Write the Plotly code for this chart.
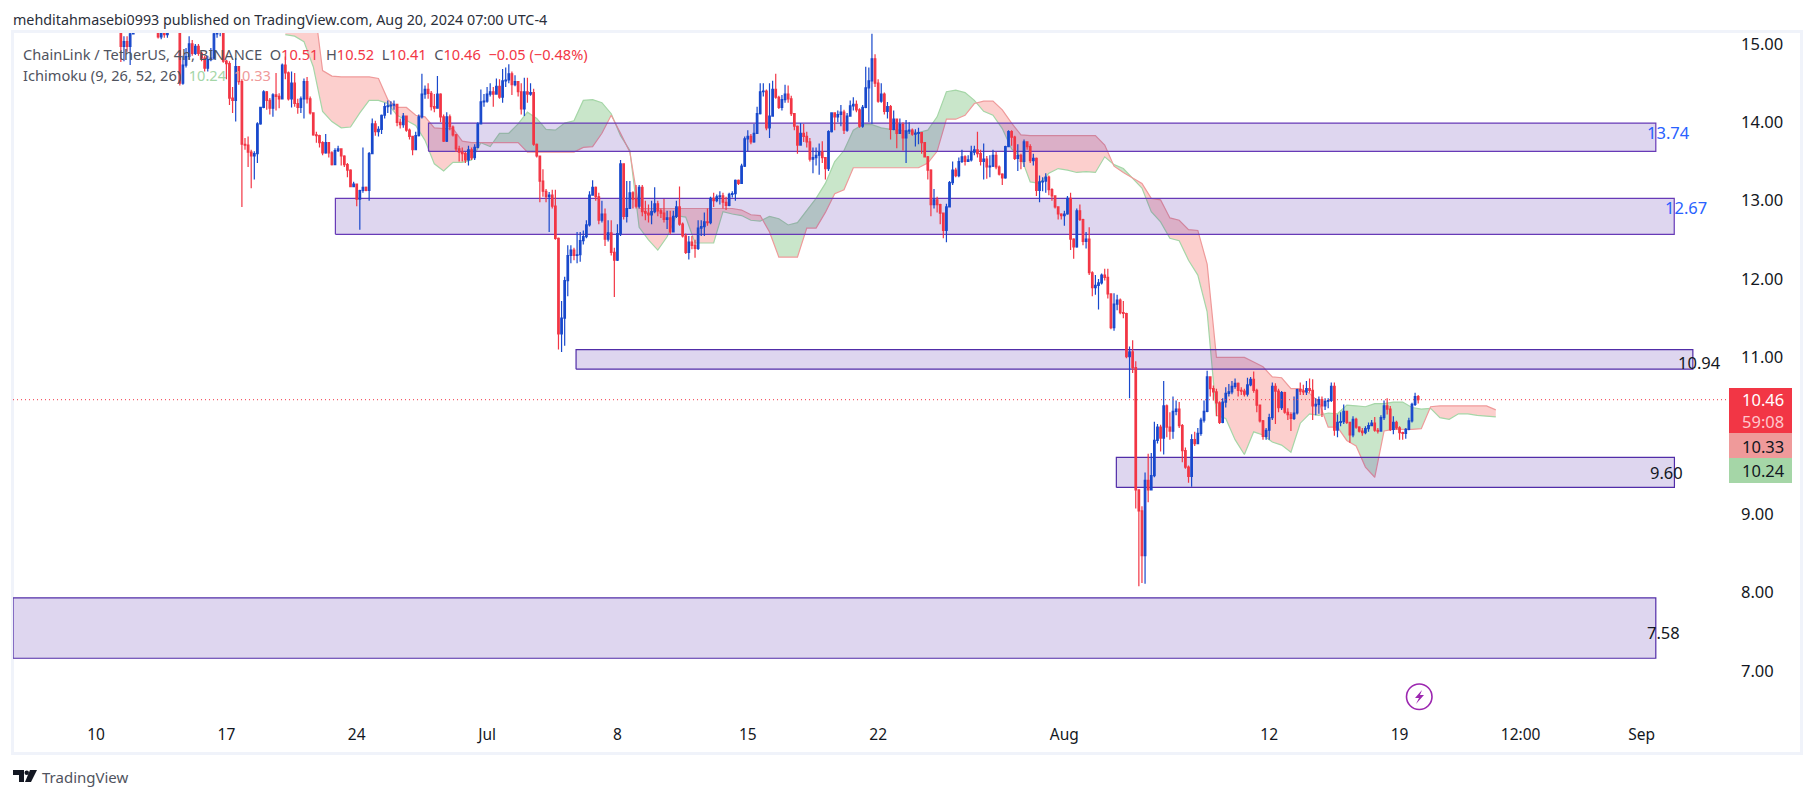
import pandas as pd
import plotly.graph_objects as go

closes = [
 14.97,15.03,14.97,15.13,15.3,15.4,15.5,15.6,15.5,15.45,
 15.35,15.2,15.09,15.14,15.12,15.2,15.3,15.4,15.35,14.5,
 14.73,14.84,15.0,14.88,14.97,14.88,14.82,14.69,14.8,14.82,
 15.13,15.15,15.17,14.78,14.75,14.31,14.28,14.71,14.52,13.72,
 13.71,13.62,13.57,13.6,13.98,14.19,14.39,14.28,14.18,14.35,
 14.33,14.3,14.73,14.63,14.3,14.5,14.24,14.19,14.3,14.52,
 14.3,14.12,13.84,13.83,13.74,13.61,13.74,13.61,13.46,13.64,
 13.66,13.57,13.46,13.39,13.18,13.21,13.02,13.13,13.17,13.13,
 13.6,13.98,13.88,13.91,14.09,14.2,14.21,14.22,14.23,14.0,
 13.97,14.08,13.9,13.82,13.65,13.83,14.07,14.36,14.42,14.37,
 14.2,14.18,14.36,14.07,13.76,14.07,13.94,13.84,13.66,13.62,
 13.6,13.52,13.65,13.55,13.68,13.98,14.26,14.27,14.36,14.39,
 14.36,14.46,14.32,14.53,14.54,14.62,14.48,14.52,14.39,14.17,
 14.39,14.36,14.38,13.72,13.57,13.25,13.12,13.05,13.07,12.93,
 12.52,11.3,11.5,11.98,12.3,12.37,12.3,12.31,12.49,12.54,
 12.69,13.07,13.17,13.05,12.75,12.83,12.51,12.59,12.34,12.24,
 12.58,13.47,12.8,12.9,13.1,13.02,12.93,13.17,12.86,12.84,
 12.82,12.86,12.96,12.87,12.84,12.76,12.78,12.6,12.8,12.92,
 12.7,12.55,12.34,12.47,12.43,12.39,12.65,12.67,12.73,12.72,
 13.03,13.0,13.05,13.06,12.98,12.94,13.08,13.09,13.26,13.22,
 13.44,13.79,13.82,13.75,13.86,14.11,14.39,14.4,13.93,14.08,
 14.42,14.32,14.19,14.29,14.36,14.3,14.11,13.95,13.71,13.86,
 13.82,13.75,13.53,13.55,13.58,13.62,13.55,13.41,13.88,14.12,
 14.07,14.1,14.13,13.9,14.08,14.21,14.23,14.16,13.95,14.19,
 14.44,14.53,14.81,14.5,14.27,14.36,14.14,14.2,13.91,14.04,
 13.86,13.97,13.8,13.89,13.9,13.85,13.86,13.87,13.74,13.56,
 13.39,12.95,13.01,12.95,12.84,12.62,12.92,13.23,13.39,13.32,
 13.5,13.56,13.5,13.52,13.62,13.65,13.6,13.5,13.53,13.43,
 13.44,13.58,13.43,13.34,13.29,13.69,13.88,13.81,13.54,13.58,
 13.5,13.75,13.69,13.51,13.54,13.13,13.24,13.25,13.3,13.14,
 13.06,12.92,12.83,12.81,12.83,13.03,12.51,12.41,12.87,12.76,
 12.48,12.51,12.08,11.89,11.92,11.95,12.05,12.02,11.81,11.38,
 11.68,11.73,11.57,11.56,11.01,11.07,10.87,9.31,9.04,8.47,
 9.43,9.31,9.49,9.94,10.11,9.97,10.38,10.11,10.06,10.31,
 10.34,10.13,9.81,9.6,9.48,9.95,9.9,10.03,10.2,10.31,
 10.75,10.6,10.56,10.42,10.17,10.43,10.54,10.56,10.63,10.67,
 10.58,10.57,10.53,10.65,10.72,10.58,10.39,10.19,9.99,10.07,
 10.23,10.63,10.57,10.36,10.55,10.3,10.27,10.22,10.29,10.59,
 10.57,10.56,10.6,10.58,10.38,10.4,10.46,10.38,10.44,10.45,
 10.63,10.07,10.17,10.18,10.31,10.17,10.01,10.21,10.11,10.06,
 10.04,10.09,10.13,10.16,10.07,10.06,10.23,10.38,10.34,10.08,
 10.17,10.1,10.04,10.03,10.08,10.19,10.4,10.5,10.46]

highs = [
 15.3,15.1,15.1,15.2,15.4,15.5,15.6,15.7,15.65,15.6,
 15.5,15.4,15.25,15.25,15.2,15.3,15.4,15.5,15.5,15.4,
 14.85,14.95,15.1,15.05,15.0,15.0,14.9,14.85,14.85,14.95,
 15.25,15.3,15.3,15.25,14.8,14.78,14.45,14.82,14.72,14.55,
 13.8,13.82,13.65,13.63,14.0,14.2,14.41,14.4,14.31,14.37,
 14.63,14.37,14.75,14.84,14.65,14.65,14.63,14.3,14.33,14.56,
 14.58,14.33,14.13,13.88,13.84,13.76,13.85,13.75,13.63,13.67,
 13.7,13.67,13.58,13.48,13.4,13.24,13.2,13.14,13.68,13.18,
 13.62,14.05,14.02,13.95,14.1,14.25,14.28,14.27,14.28,14.22,
 14.05,14.12,14.06,13.92,13.82,13.88,14.1,14.62,14.47,14.5,
 14.4,14.36,14.59,14.37,14.1,14.13,14.1,13.96,13.85,13.7,
 13.68,13.62,13.7,13.68,13.72,14.0,14.42,14.36,14.45,14.5,
 14.45,14.56,14.55,14.68,14.7,14.74,14.65,14.6,14.52,14.5,
 14.57,14.57,14.5,14.43,13.73,13.57,13.4,13.15,13.11,13.14,
 13.14,12.53,11.72,12.03,12.43,12.43,12.4,12.6,12.6,12.62,
 12.75,13.12,13.26,13.18,13.1,13.0,12.9,12.75,12.75,12.4,
 12.7,13.52,13.47,13.25,13.25,13.12,13.2,13.2,13.2,13.0,
 12.95,13.0,13.17,13.0,12.9,13.02,12.87,12.87,12.87,13.0,
 13.18,12.72,12.58,12.55,12.55,12.5,12.75,12.75,12.85,12.9,
 13.05,13.1,13.08,13.12,13.1,13.05,13.1,13.12,13.27,13.27,
 13.47,13.82,13.9,13.85,13.98,14.2,14.5,14.5,14.42,14.5,
 14.53,14.62,14.34,14.35,14.48,14.47,14.34,14.12,13.96,13.99,
 13.98,13.88,13.8,13.68,13.68,13.73,13.76,13.55,13.9,14.13,
 14.12,14.15,14.22,14.16,14.12,14.28,14.32,14.28,14.18,14.22,
 14.71,14.7,15.13,14.87,14.55,14.5,14.38,14.26,14.22,14.15,
 14.05,14.05,14.0,14.03,14.0,13.92,13.91,13.93,13.87,13.75,
 13.57,13.4,13.15,13.05,12.96,12.84,12.96,13.25,13.5,13.42,
 13.55,13.65,13.58,13.58,13.7,13.7,13.88,13.65,13.73,13.57,
 13.58,13.65,13.62,13.45,13.35,13.7,13.9,13.9,13.83,13.72,
 13.6,13.78,13.74,13.72,13.6,13.55,13.32,13.3,13.35,13.32,
 13.16,13.07,12.93,12.84,12.87,13.06,13.1,12.52,12.9,12.95,
 12.77,12.6,12.66,12.1,12.05,12.0,12.07,12.13,12.13,11.82,
 11.82,11.8,11.75,11.72,11.57,11.14,11.22,10.95,9.3,9.1,
 9.53,9.77,9.78,10.18,10.15,10.14,10.7,10.4,10.3,10.5,
 10.45,10.43,10.15,9.85,9.62,10.02,10.05,10.1,10.23,10.45,
 10.83,10.75,10.64,10.6,10.44,10.48,10.62,10.66,10.7,10.73,
 10.68,10.62,10.6,10.74,10.75,10.82,10.6,10.4,10.2,10.1,
 10.28,10.68,10.67,10.6,10.57,10.56,10.35,10.3,10.5,10.6,
 10.68,10.65,10.7,10.73,10.72,10.48,10.5,10.5,10.48,10.48,
 10.68,10.68,10.27,10.3,10.4,10.32,10.18,10.25,10.23,10.12,
 10.1,10.12,10.17,10.2,10.24,10.1,10.26,10.45,10.48,10.38,
 10.25,10.19,10.12,10.05,10.1,10.23,10.42,10.55,10.52]

lows = [
 14.77,14.78,14.9,14.73,15.15,15.25,15.35,15.45,15.4,15.35,
 15.25,15.15,15.07,15.06,15.08,15.08,15.16,15.25,15.2,14.47,
 14.48,14.7,14.8,14.85,14.86,14.85,14.78,14.65,14.65,14.78,
 14.8,15.08,15.1,14.76,14.55,14.22,14.12,14.01,14.48,12.92,
 13.65,13.43,13.16,13.27,13.48,13.97,14.18,14.16,14.1,14.07,
 14.15,14.18,14.3,14.55,14.28,14.19,14.2,14.11,14.12,14.05,
 14.24,14.1,13.83,13.74,13.68,13.58,13.6,13.55,13.45,13.46,
 13.62,13.45,13.43,13.3,13.17,13.17,12.93,12.63,13.1,13.12,
 13.0,13.6,13.83,13.82,13.85,14.05,14.12,14.1,14.16,13.95,
 13.92,13.93,13.88,13.78,13.58,13.65,13.82,14.05,14.3,14.3,
 14.15,14.13,14.18,14.0,13.75,13.75,13.9,13.82,13.62,13.5,
 13.5,13.48,13.45,13.52,13.52,13.67,13.98,14.2,14.25,14.33,
 14.2,14.36,14.3,14.25,14.45,14.5,14.35,14.46,14.33,14.1,
 14.08,14.25,14.34,13.7,13.55,12.98,13.05,12.98,12.6,12.9,
 12.5,11.1,11.07,11.15,11.78,12.2,12.24,12.2,12.22,12.44,
 12.52,12.67,13.07,13.0,12.7,12.72,12.42,12.48,12.3,11.77,
 12.23,12.55,12.76,12.72,12.9,12.9,12.9,12.9,12.8,12.75,
 12.72,12.7,12.84,12.8,12.78,12.72,12.64,12.57,12.6,12.78,
 12.68,12.53,12.32,12.25,12.38,12.27,12.37,12.55,12.55,12.68,
 12.7,12.92,12.98,12.95,12.9,12.88,12.93,13.04,13.0,13.2,
 13.22,13.43,13.63,13.72,13.74,13.85,14.1,14.33,13.9,13.8,
 14.07,14.3,14.17,14.15,14.25,14.25,14.08,13.9,13.6,13.7,
 13.75,13.68,13.5,13.35,13.45,13.33,13.48,13.27,13.38,13.87,
 13.9,14.0,13.95,13.85,13.88,14.08,14.15,14.13,13.93,13.93,
 14.18,14.0,13.98,14.45,14.25,14.25,14.1,14.05,13.78,13.9,
 13.67,13.85,13.64,13.48,13.85,13.83,13.69,13.72,13.6,13.55,
 13.27,12.8,12.9,12.85,12.7,12.52,12.47,12.92,13.2,13.3,
 13.3,13.48,13.45,13.5,13.5,13.58,13.55,13.45,13.27,13.28,
 13.3,13.43,13.4,13.32,13.2,13.28,13.69,13.7,13.52,13.38,
 13.4,13.43,13.65,13.48,13.45,13.06,12.98,13.12,13.1,13.07,
 13.0,12.9,12.76,12.76,12.68,12.82,12.37,12.26,12.4,12.74,
 12.43,12.39,12.05,11.78,11.8,11.61,11.93,11.98,11.75,11.36,
 11.34,11.6,11.55,11.5,10.99,10.48,10.8,9.07,8.08,8.12,
 8.11,9.15,9.3,9.47,9.9,9.8,9.76,9.98,9.95,9.96,
 10.26,10.1,9.66,9.58,9.4,9.35,9.87,9.9,10.0,10.17,
 10.3,10.5,10.45,10.25,10.15,10.16,10.36,10.5,10.53,10.6,
 10.5,10.52,10.5,10.5,10.63,10.55,10.3,10.17,9.95,9.95,
 9.95,10.2,10.15,10.3,10.33,10.28,10.2,10.06,10.2,10.27,
 10.52,10.52,10.52,10.55,10.2,10.26,10.28,10.24,10.33,10.35,
 10.43,10.0,9.98,10.12,10.15,10.15,9.91,9.98,10.09,10.04,
 10.0,10.02,10.05,10.12,10.05,10.03,10.06,10.2,10.27,10.06,
 10.02,10.08,9.95,9.95,9.96,10.07,10.17,10.38,10.41]

span_a = [
 15.12,15.10,15.03,14.71,14.14,14.01,13.93,13.94,14.12,14.28,
 14.28,14.24,14.09,14.03,13.96,13.77,13.47,13.38,13.49,13.49,
 13.52,13.74,13.69,13.86,13.86,13.98,14.13,14.05,13.91,13.9,
 13.99,14.02,14.28,14.29,14.25,14.11,13.83,13.64,12.66,12.5,
 12.37,12.54,12.81,12.79,12.46,12.46,12.46,12.86,12.83,12.81,
 12.75,12.74,12.8,12.77,12.69,12.72,12.88,13.03,13.22,13.5,
 13.64,13.9,13.97,13.97,13.93,13.91,13.9,13.88,13.87,13.9,
 14.07,14.39,14.41,14.38,14.28,14.14,14.09,13.92,13.66,13.56,
 13.24,13.22,13.35,13.41,13.39,13.36,13.37,13.36,13.56,13.46,
 13.41,13.29,13.16,12.86,12.73,12.52,12.49,12.24,12.05,11.58,
 10.26,10.22,9.95,9.76,10.05,10.01,9.92,9.88,9.79,10.16,
 10.28,10.26,10.29,10.28,10.39,10.38,10.37,10.41,10.41,10.43,
 10.43,10.36,10.34,10.35,10.23,10.21,10.28,10.28,10.26,10.25,10.24]

span_b = [
 15.6,15.6,15.6,15.6,14.66,14.59,14.58,14.58,14.58,14.58,
 14.56,14.29,14.19,14.19,14.09,14.07,13.93,13.92,13.92,13.76,
 13.74,13.74,13.74,13.74,13.74,13.74,13.62,13.62,13.62,13.62,
 13.62,13.62,13.68,13.69,13.86,14.09,13.86,13.62,12.9,12.9,
 12.9,12.9,12.9,12.9,12.9,12.9,12.9,12.9,12.9,12.88,
 12.82,12.81,12.6,12.28,12.28,12.28,12.65,12.65,12.85,13.09,
 13.14,13.42,13.42,13.42,13.42,13.42,13.42,13.42,13.42,13.48,
 13.63,14.04,14.04,14.09,14.24,14.27,14.27,14.16,13.99,13.84,
 13.83,13.83,13.83,13.83,13.83,13.83,13.83,13.83,13.71,13.44,
 13.36,13.29,13.22,13.03,13.01,12.78,12.75,12.63,12.62,12.19,
 11.0,11.0,11.0,11.0,10.94,10.88,10.75,10.74,10.6,10.6,
 10.54,10.43,10.11,10.11,9.94,9.87,9.6,9.47,10.06,10.08,
 10.08,10.08,10.09,10.37,10.38,10.38,10.38,10.38,10.38,10.38,10.33]

zone_names = ["13.74", "12.67", "10.94", "9.60", "7.58"]
zone_left = ["2024-06-27 20:30", "2024-06-22 20:30", "2024-07-05 18:40", "2024-08-03 19:00", "2024-06-05 13:00"]
zone_right = ["2024-09-01 18:15", "2024-09-02 18:00", "2024-09-03 18:00", "2024-09-02 18:15", "2024-09-01 18:15"]
zone_top = [13.99, 13.03, 11.10, 9.725, 7.93]
zone_bottom = [13.63, 12.57, 10.85, 9.34, 7.16]

price_ticks = [7, 8, 9, 11, 12, 13, 14, 15]
time_ticks = ["2024-06-10", "2024-06-17", "2024-06-24", "2024-07-01", "2024-07-08", "2024-07-15",
              "2024-07-22", "2024-08-01", "2024-08-12", "2024-08-19", "2024-08-25 12:00", "2024-09-01"]
time_labels = ["10", "17", "24", "Jul", "8", "15", "22", "Aug", "12", "19", "12:00", "Sep"]

RED, BLUE = "#F23645", "#1848CC"
FONT = "Noto Sans"
L, R, T, B = 13, 1727, 33, 720
W, H = 1814, 798
px = lambda v: (v - L) / (R - L)
py = lambda v: (B - v) / (B - T)

dates = pd.date_range(end="2024-08-20 00:00", periods=len(closes), freq="4h")
opens = [15.2] + closes[:-1]
cloud_t = pd.date_range("2024-06-20 04:00", periods=len(span_a), freq="12h")

fig = go.Figure()

# Kumo: one polygon per run where one span stays above the other
runs, cur = [], None
for i in range(len(span_a)):
    s = span_a[i] >= span_b[i]
    if cur is None:
        cur = dict(s=s, t=[cloud_t[i]], a=[span_a[i]], b=[span_b[i]])
    elif s != cur["s"]:
        d0, d1 = span_a[i-1] - span_b[i-1], span_a[i] - span_b[i]
        f = d0 / (d0 - d1)
        tx = cloud_t[i-1] + f * (cloud_t[i] - cloud_t[i-1])
        yx = span_a[i-1] + f * (span_a[i] - span_a[i-1])
        cur["t"].append(tx); cur["a"].append(yx); cur["b"].append(yx)
        runs.append(cur)
        cur = dict(s=s, t=[tx, cloud_t[i]], a=[yx, span_a[i]], b=[yx, span_b[i]])
    else:
        cur["t"].append(cloud_t[i]); cur["a"].append(span_a[i]); cur["b"].append(span_b[i])
runs.append(cur)
for r in runs:
    fig.add_trace(go.Scatter(x=list(r["t"]) + list(r["t"])[::-1], y=r["a"] + r["b"][::-1],
                             mode="none", fill="toself", hoverinfo="skip",
                             fillcolor="rgba(165,214,167,0.6)" if r["s"] else "rgba(250,160,155,0.5)"))
fig.add_trace(go.Scatter(x=cloud_t, y=span_a, mode="lines", line=dict(color="#A5D6A7", width=1.2)))
fig.add_trace(go.Scatter(x=cloud_t, y=span_b, mode="lines", line=dict(color="#EF9A9A", width=1.2)))

# Zones, above the cloud and below the candles
zone_line = ["#673AB7", "#673AB7", "#512DA8", "#512DA8", "#512DA8"]
for i in range(len(zone_names)):
    fig.add_trace(go.Scatter(
        x=[zone_left[i], zone_right[i], zone_right[i], zone_left[i], zone_left[i]],
        y=[zone_bottom[i], zone_bottom[i], zone_top[i], zone_top[i], zone_bottom[i]],
        mode="lines", fill="toself", fillcolor="rgba(91,50,176,0.2)",
        line=dict(color=zone_line[i], width=1.2), hoverinfo="skip"))

fig.add_trace(go.Candlestick(
    x=dates, open=opens, high=highs, low=lows, close=closes, yaxis="y2", whiskerwidth=0,
    increasing=dict(line=dict(color=BLUE, width=1.2), fillcolor=BLUE),
    decreasing=dict(line=dict(color=RED, width=1.2), fillcolor=RED)))

yrange = [6.372, 15.14]
fig.update_layout(
    width=W, height=H, autosize=False, showlegend=False,
    margin=dict(l=L, r=W - R, t=T, b=H - B, pad=0),
    paper_bgcolor="white", plot_bgcolor="white",
    font=dict(family=FONT, color="#131722", size=16),
    xaxis=dict(range=["2024-06-05 13:00", "2024-09-05 14:00"], tickmode="array", tickvals=time_ticks,
               ticktext=time_labels, tickangle=0, showgrid=False, zeroline=False, showline=False, ticks="",
               rangeslider=dict(visible=False), tickfont=dict(size=15.5, color="#131722"),
               ticklabelstandoff=3),
    yaxis=dict(range=yrange, side="right", tickmode="array", tickvals=price_ticks,
               ticktext=["%.2f" % v for v in price_ticks], showgrid=False, zeroline=False, showline=False,
               ticks="", tickfont=dict(size=16.5, color="#131722"), ticklabelstandoff=13),
    yaxis2=dict(range=yrange, overlaying="y", side="right", visible=False),
)

shapes = [
    # frame
    dict(type="rect", xref="paper", yref="paper", x0=px(12.5), x1=px(1801.5), y0=py(753.5), y1=py(31.5),
         line=dict(color="#F0F3FA", width=3), layer="below"),
    # last price line
    dict(type="line", xref="paper", yref="y", x0=0, x1=1, y0=closes[-1], y1=closes[-1],
         line=dict(color=RED, width=1, dash="1px,3px"), layer="above"),
]
for y0, y1, col in [(388, 433, RED), (433, 458, "#EF9A9A"), (458, 483, "#A5D6A7")]:
    shapes.append(dict(type="rect", xref="paper", yref="paper", x0=px(1729), x1=px(1792), y0=py(y1), y1=py(y0),
                       fillcolor=col, line=dict(width=0), layer="above"))
def path(points):
    return "M " + " L ".join("%.5f,%.5f" % (px(a), py(b)) for a, b in points) + " Z"
# lightning badge
shapes.append(dict(type="circle", xref="paper", yref="paper", x0=px(1406.5), x1=px(1432), y0=py(709.5), y1=py(684),
                   line=dict(color="#9C27B0", width=1.6), fillcolor="white", layer="above"))
shapes.append(dict(type="path", xref="paper", yref="paper", fillcolor="#9C27B0", line=dict(width=0), layer="above",
                   path=path([(1422, 690), (1415, 698), (1419, 698), (1416, 704), (1424, 695), (1420, 695)])))
# TradingView logo
shapes.append(dict(type="path", xref="paper", yref="paper", fillcolor="#131722", line=dict(width=0), layer="above",
                   path=path([(13, 770), (24, 770), (24, 782), (19, 782), (19, 775), (13, 775)])))
shapes.append(dict(type="path", xref="paper", yref="paper", fillcolor="#131722", line=dict(width=0), layer="above",
                   path=path([(30, 770), (37, 770), (31, 782), (25, 782)])))
shapes.append(dict(type="circle", xref="paper", yref="paper", fillcolor="#131722", line=dict(width=0), layer="above",
                   x0=px(24.5), x1=px(29), y0=py(775), y1=py(770.5)))
fig.update_layout(shapes=shapes)

def note(x, y, text, size=13, color="#131722", anchor="left"):
    fig.add_annotation(xref="paper", yref="paper", x=px(x), y=py(y), text=text, showarrow=False,
                       xanchor=anchor, yanchor="middle", align=anchor,
                       font=dict(family=FONT, size=size, color=color), borderpad=0, borderwidth=0)

LEG = "#50535E"
GAP = "\u00a0\u00a0"
vr = lambda t: '<span style="color:%s">%s</span>' % (RED, t)
note(13, 20, "mehditahmasebi0993 published on TradingView.com, Aug 20, 2024 07:00 UTC-4", 14.3, "#2A2E39")
note(23, 54, "ChainLink / TetherUS, 4h, BINANCE" + GAP + "O" + vr("10.51") + GAP + "H" + vr("10.52") + GAP + "L" + vr("10.41")
     + GAP + "C" + vr("10.46") + GAP + vr("−0.05 (−0.48%)"), 14.6, LEG)
note(23, 75, "Ichimoku (9, 26, 52, 26)" + GAP + '<span style="color:#A5D6A7">10.24</span>' + GAP
     + '<span style="color:#EF9A9A">10.33</span>', 14.6, LEG)
note(1763, 400, "10.46", 16.5, "white", "center")
note(1763, 421, "59:08", 16.5, "#FFC7CC", "center")
note(1763, 446, "10.33", 16.5, "#131722", "center")
note(1763, 471, "10.24", 16.5, "#131722", "center")
note(1668, 132, zone_names[0], 16.5, "#2962FF", "center")
note(1686, 208, zone_names[1], 16.5, "#2962FF", "center")
note(1699, 362, zone_names[2], 16.5, "#131722", "center")
note(1666, 472, zone_names[3], 16.5, "#131722", "center")
note(1663, 632, zone_names[4], 16.5, "#131722", "center")
note(42, 777, "TradingView", 15, "#50535E")

fig.write_html("out.html", config=dict(displayModeBar=False),
               post_script="document.body.style.margin='0';document.body.style.overflow='hidden';")
